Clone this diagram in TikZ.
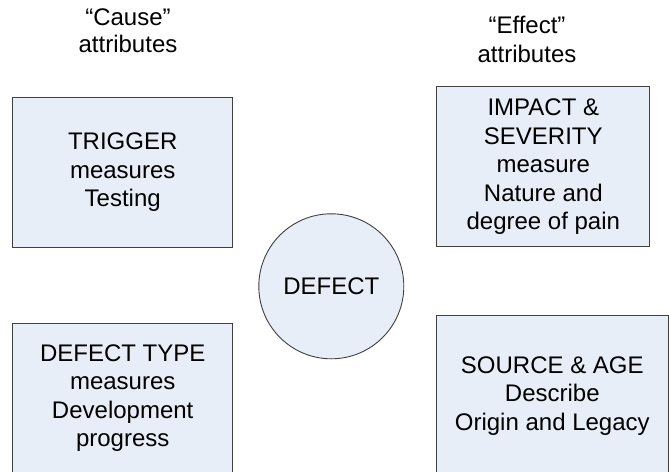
\documentclass[tikz,border=0pt]{standalone}
\usepackage{fontspec}
\setmainfont{Liberation Sans}
\definecolor{attrfill}{RGB}{232,238,247}
\definecolor{attrline}{RGB}{64,64,64}
\begin{document}
\begin{tikzpicture}[x=1pt, y=-1pt,
    attrbox/.style={draw=attrline, fill=attrfill, line width=0.9pt, inner sep=0pt,
        align=center, font=\fontsize{24}{28.5}\selectfont},
    headtext/.style={align=center, font=\fontsize{24}{27}\selectfont}]
    \useasboundingbox (0,0) rectangle (669,471);

    % Column headings
    \node[headtext] (cause) at (128,31) {“Cause”\\attributes};
    \node[headtext, font=\fontsize{24}{29}\selectfont] (effect) at (527,39.5) {“Effect”\\attributes};

    % Cause side
    \node[attrbox, minimum width=220pt, minimum height=150pt] (trigger) at (122.7,172.5)
        {TRIGGER\\measures\\Testing};
    \node[attrbox, minimum width=220pt, minimum height=150pt] (dtype) at (122.7,398)
        {DEFECT TYPE\\measures\\Development\\progress};

    % Effect side
    \node[attrbox, minimum width=213pt, minimum height=160pt] (impact) at (543.3,166.7)
        {IMPACT \&\\SEVERITY\\measure\\Nature and\\degree of pain};
    \node[attrbox, minimum width=232pt, minimum height=162pt] (source) at (552.3,396)
        {SOURCE \& AGE\\Describe\\Origin and Legacy};

    % Centre
    \node[attrbox, circle, minimum size=145pt] (defect) at (331.3,286.3) {DEFECT};
\end{tikzpicture}
\end{document}
